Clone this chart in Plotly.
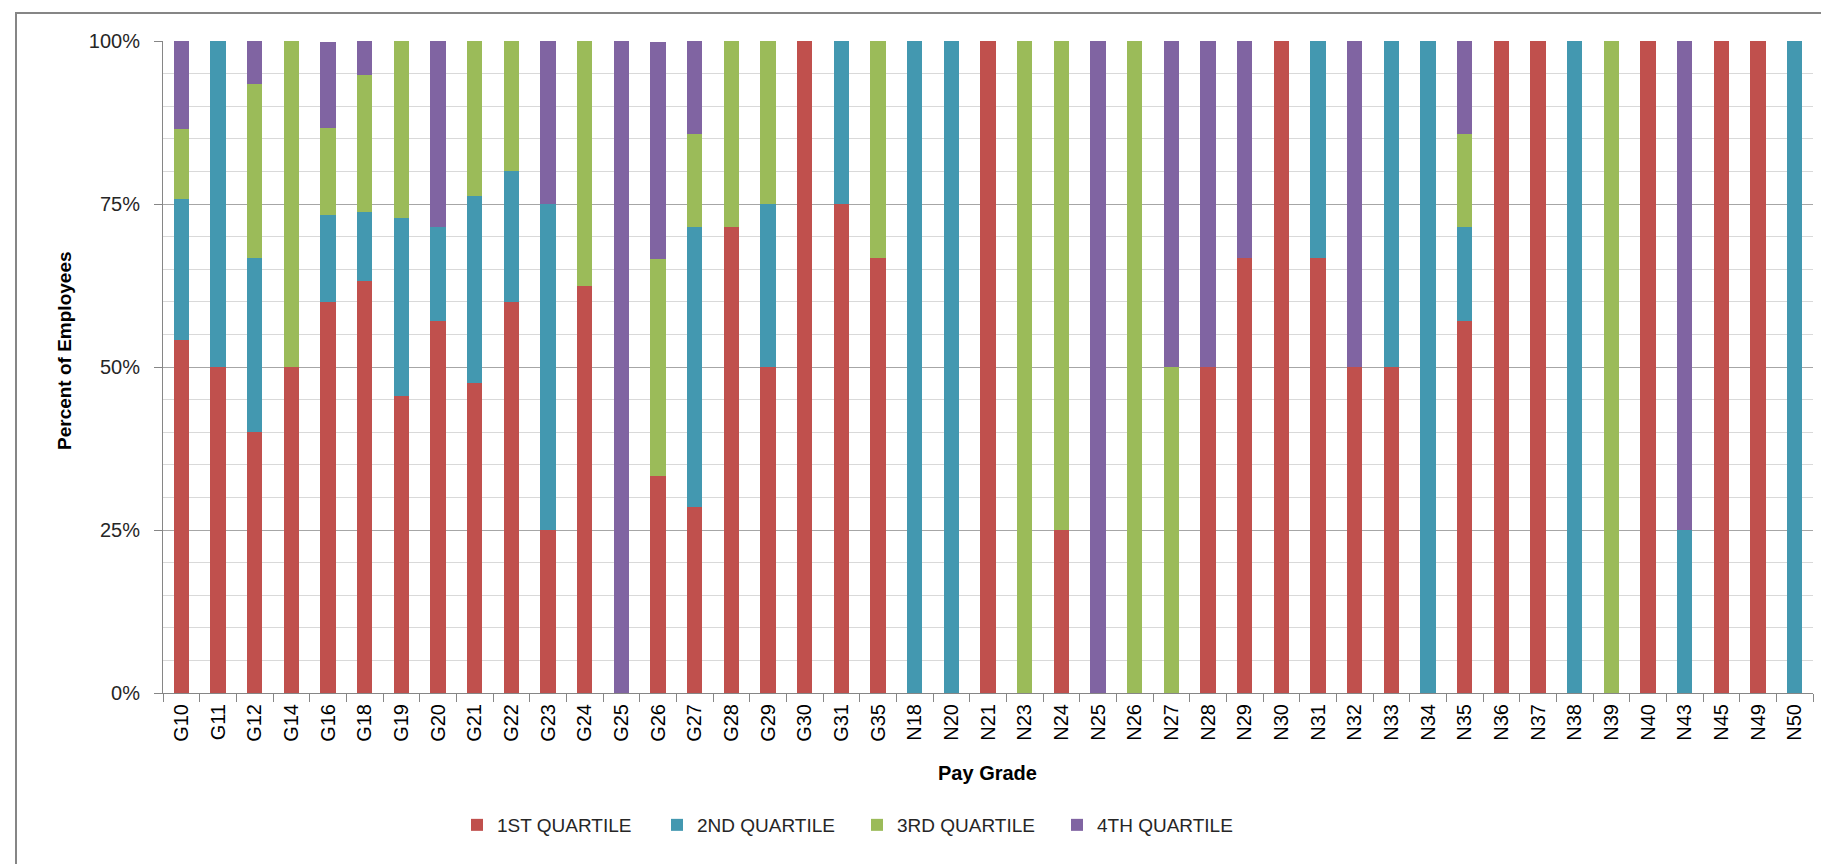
import plotly.graph_objects as go

grades = ["G10", "G11", "G12", "G14", "G16", "G18", "G19", "G20", "G21", "G22",
          "G23", "G24", "G25", "G26", "G27", "G28", "G29", "G30", "G31", "G35",
          "N18", "N20", "N21", "N23", "N24", "N25", "N26", "N27", "N28", "N29",
          "N30", "N31", "N32", "N33", "N34", "N35", "N36", "N37", "N38", "N39",
          "N40", "N43", "N45", "N49", "N50"]

q1 = [54.1, 50.0, 40.0, 50.0, 60.0, 63.2, 45.5, 57.1, 47.6, 60.0,
      25.0, 62.5, 0.0, 33.3, 28.6, 71.4, 50.0, 100.0, 75.0, 66.7,
      0.0, 0.0, 100.0, 0.0, 25.0, 0.0, 0.0, 0.0, 50.0, 66.7,
      100.0, 66.7, 50.0, 50.0, 0.0, 57.1, 100.0, 100.0, 0.0, 0.0,
      100.0, 0.0, 100.0, 100.0, 0.0]
q2 = [21.6, 50.0, 26.7, 0.0, 13.3, 10.5, 27.3, 14.3, 28.6, 20.0,
      50.0, 0.0, 0.0, 0.0, 42.9, 0.0, 25.0, 0.0, 25.0, 0.0,
      100.0, 100.0, 0.0, 0.0, 0.0, 0.0, 0.0, 0.0, 0.0, 0.0,
      0.0, 33.3, 0.0, 50.0, 100.0, 14.3, 0.0, 0.0, 100.0, 0.0,
      0.0, 25.0, 0.0, 0.0, 100.0]
q3 = [10.8, 0.0, 26.7, 50.0, 13.3, 21.1, 27.3, 0.0, 23.8, 20.0,
      0.0, 37.5, 0.0, 33.3, 14.3, 28.6, 25.0, 0.0, 0.0, 33.3,
      0.0, 0.0, 0.0, 100.0, 75.0, 0.0, 100.0, 50.0, 0.0, 0.0,
      0.0, 0.0, 0.0, 0.0, 0.0, 14.3, 0.0, 0.0, 0.0, 100.0,
      0.0, 0.0, 0.0, 0.0, 0.0]
q4 = [13.5, 0.0, 6.7, 0.0, 13.3, 5.3, 0.0, 28.6, 0.0, 0.0,
      25.0, 0.0, 100.0, 33.3, 14.3, 0.0, 0.0, 0.0, 0.0, 0.0,
      0.0, 0.0, 0.0, 0.0, 0.0, 100.0, 0.0, 50.0, 50.0, 33.3,
      0.0, 0.0, 50.0, 0.0, 0.0, 14.3, 0.0, 0.0, 0.0, 0.0,
      0.0, 75.0, 0.0, 0.0, 0.0]

series_names = ["1ST QUARTILE", "2ND QUARTILE", "3RD QUARTILE", "4TH QUARTILE"]
series_vals = [q1, q2, q3, q4]
colors = ["#C0504D", "#4398B0", "#9BBB59", "#8064A2"]

y_ticks = [0, 25, 50, 75, 100]
y_ticklabels = ["0%", "25%", "50%", "75%", "100%"]

fig = go.Figure()
for name, vals, c in zip(series_names, series_vals, colors):
    fig.add_trace(go.Bar(x=grades, y=vals, name=name, marker=dict(color=c, line=dict(width=0))))

W, H = 1829, 864
L, R, T, B = 155, 24, 33, 179
pw, ph = W - L - R, H - T - B

def px_x(p):
    return (p - L) / pw

def px_y(p):
    return (H - B - p) / ph

base_font = "Liberation Sans, Arial, sans-serif"

fig.update_layout(
    width=W, height=H,
    margin=dict(l=L, r=R, t=T, b=B, autoexpand=False),
    barmode="stack",
    bargap=0.58,
    plot_bgcolor="white",
    paper_bgcolor="white",
    font=dict(family=base_font, color="#262626"),
    showlegend=True,
    legend=dict(
        orientation="h",
        x=px_x(449), xanchor="left",
        y=px_y(817), yanchor="middle",
        font=dict(size=19, family=base_font, color="#262626"),
        entrywidth=155, entrywidthmode="pixels",
        traceorder="normal",
        itemclick=False,
    ),
    xaxis=dict(
        type="category",
        categoryorder="array", categoryarray=grades,
        tickangle=-90,
        tickfont=dict(size=20, color="#000000"),
        ticks="outside", ticklen=8, tickcolor="#868686",
        tickson="boundaries",
        showline=True, linecolor="#868686", linewidth=1,
        showgrid=False,
        ticklabelstandoff=2,
    ),
    yaxis=dict(
        range=[0, 100],
        tickvals=y_ticks, ticktext=y_ticklabels,
        tickfont=dict(size=20, color="#262626"),
        ticks="outside", ticklen=8, tickcolor="#868686",
        showline=True, linecolor="#868686", linewidth=1,
        showgrid=True, gridcolor="#A6A6A6", gridwidth=1,
        minor=dict(dtick=5, showgrid=True, gridcolor="#D9D9D9", gridwidth=1, ticks=""),
        zeroline=False,
        ticklabelstandoff=10,
    ),
    annotations=[
        dict(text="<b>Percent of Employees</b>", xref="paper", yref="paper",
             x=px_x(56), y=px_y(343), textangle=-90, showarrow=False,
             xanchor="center", yanchor="middle",
             font=dict(size=19, family=base_font, color="#000000")),
        dict(text="<b>Pay Grade</b>", xref="paper", yref="paper",
             x=px_x(979), y=px_y(765), showarrow=False,
             xanchor="center", yanchor="middle",
             font=dict(size=20, family=base_font, color="#000000")),
    ],
    shapes=[
        dict(type="rect", xref="paper", yref="paper",
             x0=px_x(8), x1=px_x(1900), y0=px_y(950), y1=px_y(5),
             line=dict(color="#868686", width=2), fillcolor="rgba(0,0,0,0)", layer="below"),
    ],
)

fig.write_html("out.html")
